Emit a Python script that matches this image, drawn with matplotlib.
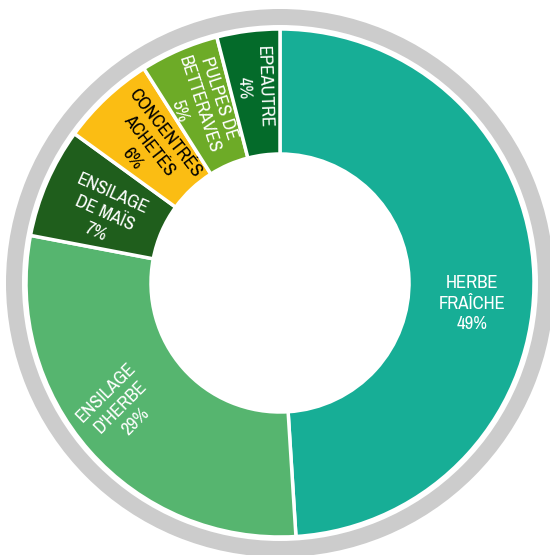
import numpy as np
import matplotlib
matplotlib.use('Agg')
import matplotlib.pyplot as plt
from matplotlib.patches import Wedge
from matplotlib import font_manager

# feed ration shares (%)
labels = ['HERBE\nFRAÎCHE', "ENSILAGE\nD'HERBE", 'ENSILAGE\nDE MAÏS',
          'CONCENTRÉS\nACHETÉS', 'PULPES DE\nBETTERAVES', 'EPEAUTRE']
shares = [49, 29, 7, 6, 5, 4]

colors = ['#17ae96', '#56b56f', '#1f5e1c', '#fbbd13', '#6dab27', '#046b2a']
text_colors = ['white', 'white', 'white', 'black', 'white', 'white']
rotations = [0, 45, -24, -52, -72, -88]
angle_shift = [-8, -3.5, 1.7, 0.5, 1, 0.4]
label_radius = [193, 202, 189, 190, 196, 197]

names = sorted({f.name for f in font_manager.fontManager.ttflist})
narrow = [n for n in names if 'Condensed' in n or 'Narrow' in n]
plt.rcParams['font.family'] = narrow[:1] + ['Roboto', 'DejaVu Sans']

fig = plt.figure(figsize=(5.5, 5.55), dpi=100)
ax = fig.add_axes([0, 0, 1, 1])

cx, cy = 280, 555 - 283

# grey outer ring
ax.add_patch(Wedge((cx, cy), 274, 0, 360, width=16, color='#cccccc', lw=0))

wedges, _ = ax.pie(shares, colors=colors, startangle=90, counterclock=False,
                   radius=254, center=(cx, cy),
                   wedgeprops=dict(width=125, edgecolor='white', linewidth=2.5))

for i, w in enumerate(wedges):
    mid = np.deg2rad((w.theta1 + w.theta2) / 2 + angle_shift[i])
    x = cx + label_radius[i] * np.cos(mid)
    y = cy + label_radius[i] * np.sin(mid)
    ax.text(x, y, labels[i] + '\n%d%%' % shares[i], color=text_colors[i],
            fontsize=13.5, ha='center', va='center', multialignment='center',
            rotation=rotations[i], rotation_mode='anchor', linespacing=1.35)

ax.set_xlim(0, 550)
ax.set_ylim(0, 555)
ax.set_aspect('equal')
ax.axis('off')

plt.savefig('out.png', dpi=100)
